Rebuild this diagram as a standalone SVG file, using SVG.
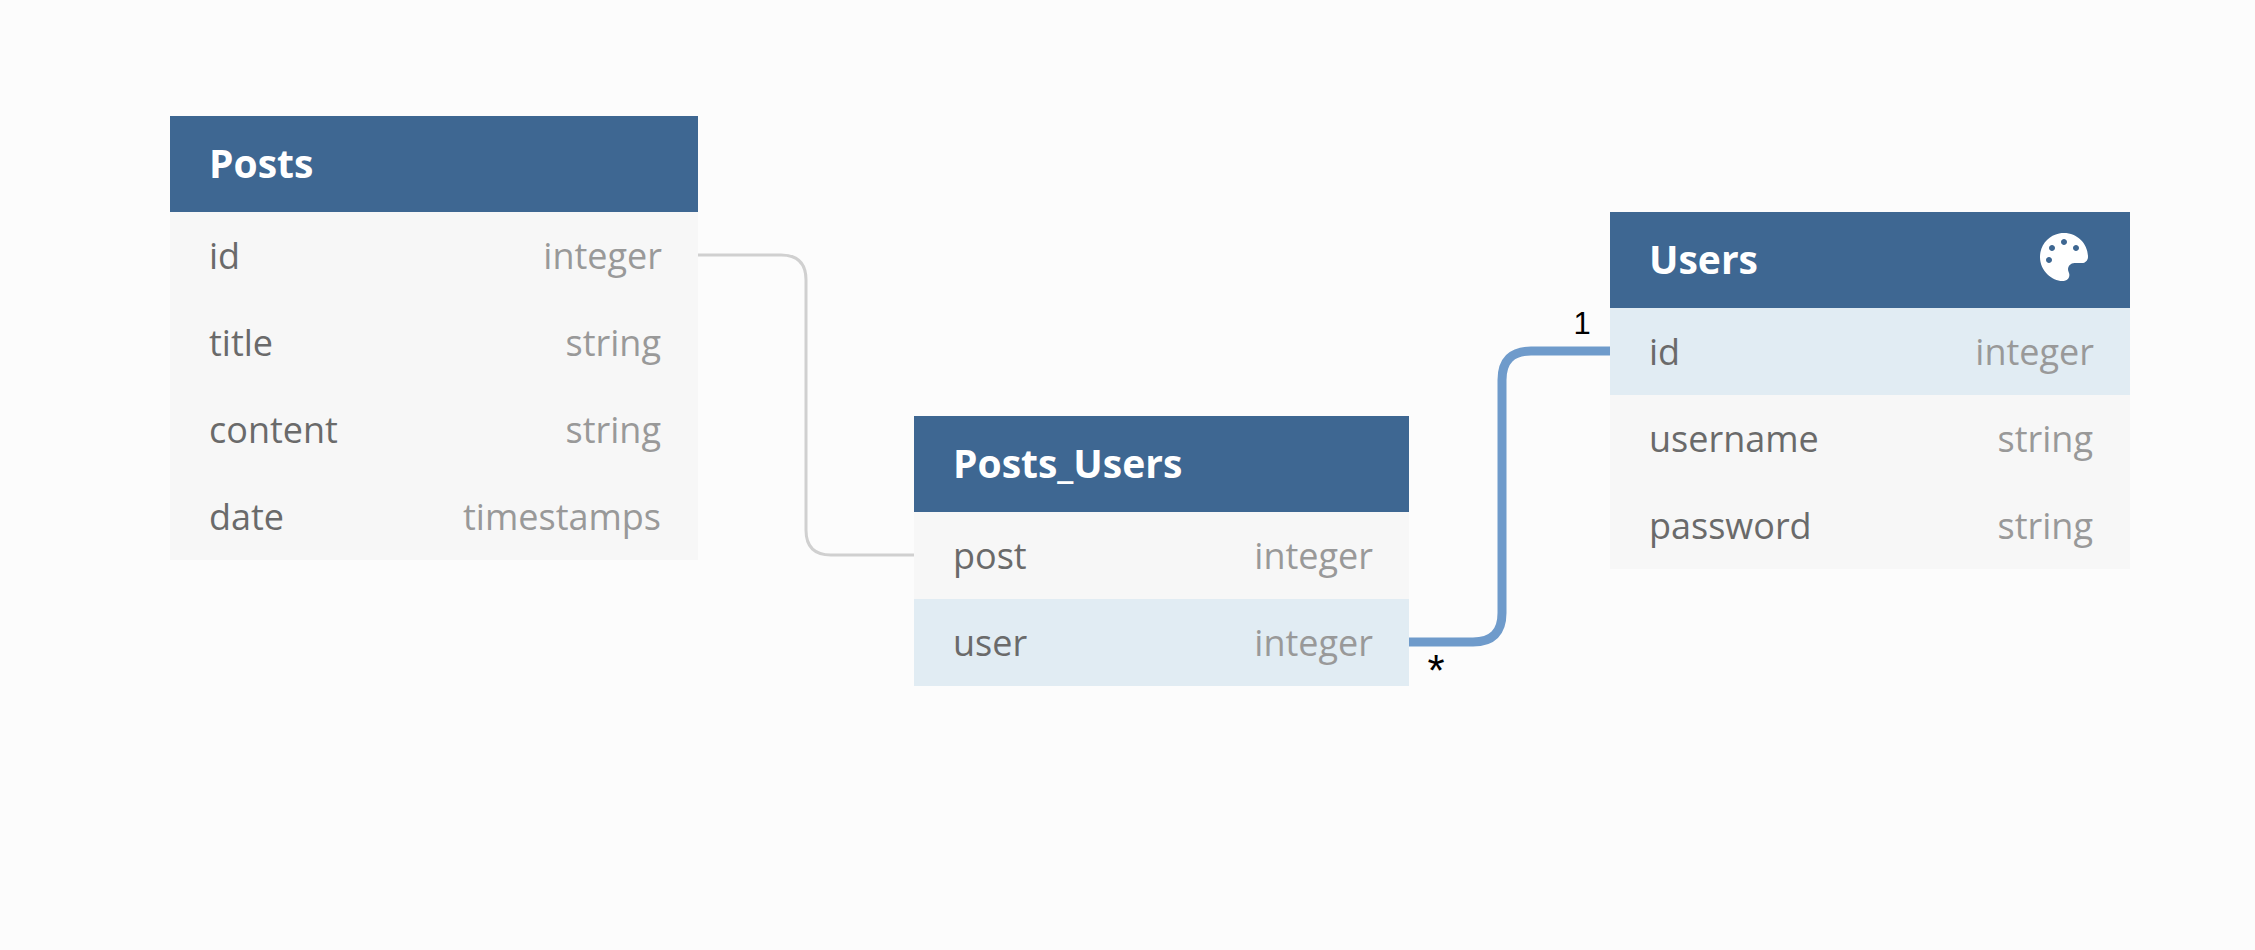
<svg xmlns="http://www.w3.org/2000/svg" width="2255" height="950" viewBox="0 0 2255 950">
<style>
.head{fill:#3e6792}
.row{fill:#f7f7f7}
.hl{fill:#e1ecf3}
.title{font:700 39px "Open Sans",sans-serif;fill:#fff}
.name{font:400 36px "Open Sans",sans-serif;fill:#6a6a6a}
.type{font:400 36px "Open Sans",sans-serif;fill:#999;text-anchor:end}
.card{font:400 31px "Liberation Sans",sans-serif;fill:#000;text-anchor:middle}
.star{font-size:44px}
.c1{fill:none;stroke:#d0d0d0;stroke-width:3}
.c2{fill:none;stroke:#6f9bcb;stroke-width:9}
</style>
<rect width="2255" height="950" fill="#fcfcfc"/>
<g id="connectors">
<path class="c1" d="M698 255H781Q806 255 806 280V530Q806 555 831 555H914"/>
<path class="c2" d="M1409 642H1473Q1502 642 1502 613V380Q1502 351 1531 351H1610"/>
<text class="card star" x="1436" y="686">*</text>
<text class="card" x="1582" y="334">1</text>
</g>
<g id="posts">
<rect class="head" x="170" y="116" width="528" height="96"/>
<rect class="row" x="170" y="212" width="528" height="348"/>
<text class="title" x="209" y="178">Posts</text>
<text class="name" x="209" y="269">id</text><text class="type" x="662" y="269">integer</text>
<text class="name" x="209" y="356">title</text><text class="type" x="661" y="356">string</text>
<text class="name" x="209" y="443">content</text><text class="type" x="661" y="443">string</text>
<text class="name" x="209" y="530">date</text><text class="type" x="661" y="530">timestamps</text>
</g>
<g id="posts_users">
<rect class="head" x="914" y="416" width="495" height="96"/>
<rect class="row" x="914" y="512" width="495" height="87"/>
<rect class="hl" x="914" y="599" width="495" height="87"/>
<text class="title" x="953" y="478">Posts_Users</text>
<text class="name" x="953" y="569">post</text><text class="type" x="1373" y="569">integer</text>
<text class="name" x="953" y="656">user</text><text class="type" x="1373" y="656">integer</text>
</g>
<g id="users">
<rect class="head" x="1610" y="212" width="520" height="96"/>
<rect class="hl" x="1610" y="308" width="520" height="87"/>
<rect class="row" x="1610" y="395" width="520" height="174"/>
<text class="title" x="1649" y="274">Users</text>
<path fill="#fff" transform="translate(2040 233) scale(.09375)" d="M204.3 5C104.9 24.4 24.8 104.3 5.2 203.4c-37 187 131.7 326.4 258.8 306.7 41.2-6.4 61.4-54.6 42.5-91.7-23.1-45.4 9.9-98.4 60.9-98.4h79.7c35.8 0 64.8-29.6 64.9-65.3C511.5 97.1 368.1-26.9 204.3 5zM96 320c-17.7 0-32-14.3-32-32s14.3-32 32-32 32 14.3 32 32-14.3 32-32 32zm32-128c-17.7 0-32-14.3-32-32s14.3-32 32-32 32 14.3 32 32-14.3 32-32 32zm128-64c-17.7 0-32-14.3-32-32s14.3-32 32-32 32 14.3 32 32-14.3 32-32 32zm128 64c-17.7 0-32-14.3-32-32s14.3-32 32-32 32 14.3 32 32-14.3 32-32 32z"/>
<text class="name" x="1649" y="365">id</text><text class="type" x="2094" y="365">integer</text>
<text class="name" x="1649" y="452">username</text><text class="type" x="2093" y="452">string</text>
<text class="name" x="1649" y="539">password</text><text class="type" x="2093" y="539">string</text>
</g>
</svg>
